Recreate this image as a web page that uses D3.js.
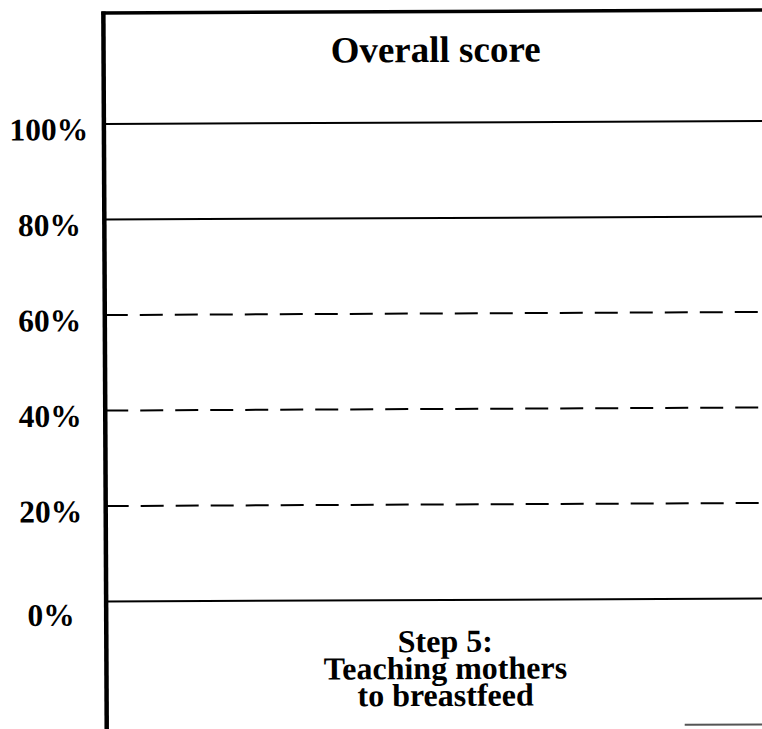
<!DOCTYPE html>
<html>
<head>
<meta charset="utf-8">
<script src="https://cdn.jsdelivr.net/npm/d3@7"></script>
<style>
  body { margin: 0; background: #fff; }
  svg { display: block; }
</style>
</head>
<body>
<div id="chart"></div>
<script>
// chart values
const categories = ["Step 5:\nTeaching mothers\nto breastfeed"];
const tickValues = [0, 20, 40, 60, 80, 100];
const tickLabels = ["0%", "20%", "40%", "60%", "80%", "100%"];
const chartTitle = "Overall score";

const W = 762, H = 729;
const FONT = "'Liberation Serif', 'Times New Roman', Times, serif";

/**
 * set the dimensions of the plot area
 */
function graphDimensions() {
    return { left: 105, right: 783, top: 11.5, zero: 600, full: 122.5 };
}

function YScale(dim) {
    return d3.scaleLinear().domain([0, 100]).range([dim.zero, dim.full]);
}

function XScale(dim) {
    return d3.scaleBand().domain(categories).range([dim.left, dim.right]);
}

/**
 * horizontal reference lines, solid at 0 / 80 / 100, dashed between
 */
function drawGrid(g, y, dim) {
    g.selectAll("line.grid")
        .data(tickValues)
        .enter()
        .append("line")
        .attr("class", "grid")
        .attr("x1", dim.left)
        .attr("x2", W + 10)
        .attr("y1", d => y(d))
        .attr("y2", d => y(d))
        .attr("stroke", "#000")
        .attr("stroke-width", 2)
        .attr("stroke-dasharray", d => (d === 0 || d >= 80) ? null : "23,12");
}

function drawYLabels(g, y) {
    g.selectAll("text.tick")
        .data(tickValues)
        .enter()
        .append("text")
        .attr("class", "tick")
        .attr("x", 50)
        .attr("y", d => y(d) + (d === 0 ? 24 : 16))
        .attr("text-anchor", "middle")
        .style("font-family", FONT)
        .style("font-weight", "bold")
        .style("font-size", "31.5px")
        .text((d, i) => tickLabels[i]);
}

function drawFrame(g, dim) {
    // top border
    g.append("line")
        .attr("x1", dim.left - 2).attr("x2", W + 10)
        .attr("y1", dim.top).attr("y2", dim.top)
        .attr("stroke", "#000").attr("stroke-width", 3.5);
    // left axis
    g.append("line")
        .attr("x1", dim.left).attr("x2", dim.left)
        .attr("y1", dim.top - 1.5).attr("y2", H + 10)
        .attr("stroke", "#000").attr("stroke-width", 4.5);
    // stub of the next frame at the bottom right
    g.append("line")
        .attr("x1", 683).attr("x2", W + 10)
        .attr("y1", 726).attr("y2", 726)
        .attr("stroke", "#555").attr("stroke-width", 2);
}

function drawTitle(g) {
    g.append("text")
        .attr("x", 437)
        .attr("y", 62)
        .attr("text-anchor", "middle")
        .style("font-family", FONT)
        .style("font-weight", "bold")
        .style("font-size", "37px")
        .text(chartTitle);
}

function drawCategory(g, x, y) {
    categories.forEach(c => {
        const t = g.append("text")
            .attr("text-anchor", "middle")
            .style("font-family", FONT)
            .style("font-weight", "bold")
            .style("font-size", "32px");
        c.split("\n").forEach((line, i) => {
            t.append("tspan")
                .attr("x", x(c) + x.bandwidth() / 2)
                .attr("y", y(0) + 52 + i * 27)
                .text(line);
        });
    });
}

function drawGraph() {
    const dim = graphDimensions();
    const svg = d3.select("#chart").append("svg")
        .attr("width", W)
        .attr("height", H);
    // the scanned page is slightly tilted
    const g = svg.append("g").attr("transform", "rotate(-0.27, 434, 360)");
    const x = XScale(dim);
    const y = YScale(dim);
    drawGrid(g, y, dim);
    drawFrame(g, dim);
    drawYLabels(g, y);
    drawTitle(g);
    drawCategory(g, x, y);
}

drawGraph();
</script>
</body>
</html>
